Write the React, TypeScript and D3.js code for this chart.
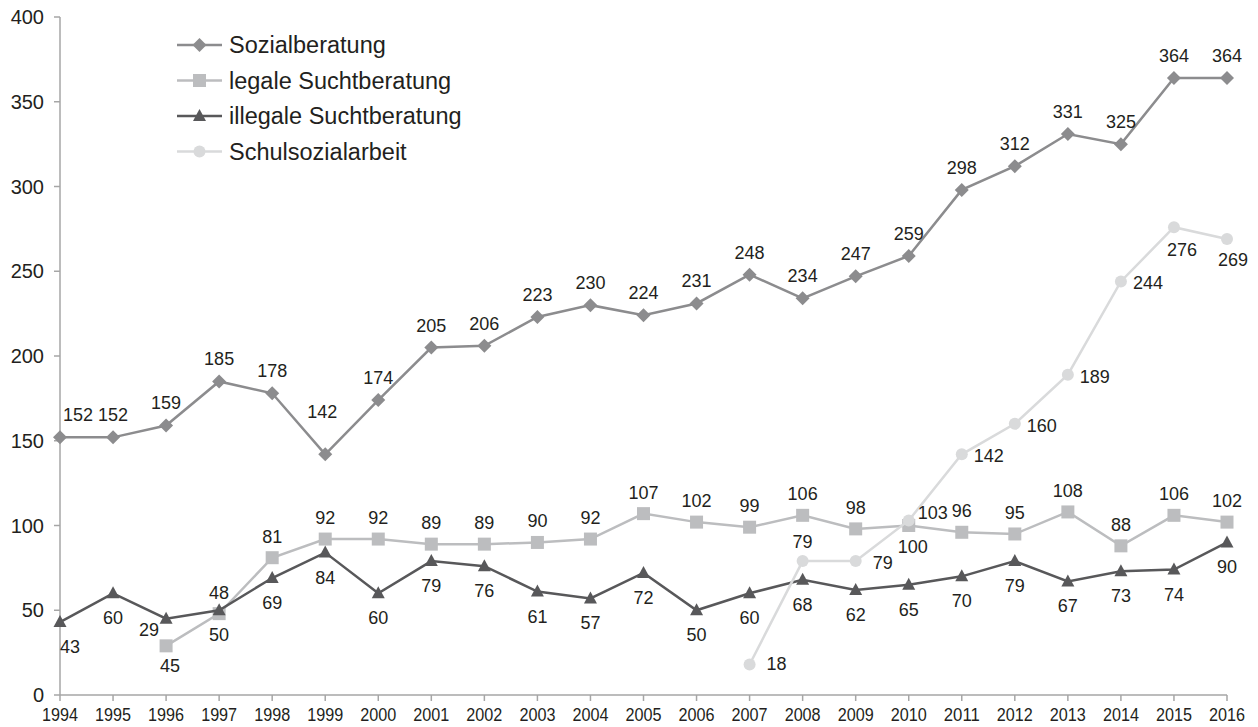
import React from "react";
import * as d3 from "d3";

const years = [1994,1995,1996,1997,1998,1999,2000,2001,2002,2003,2004,2005,2006,2007,2008,2009,2010,2011,2012,2013,2014,2015,2016];
const sozialberatung = [152,152,159,185,178,142,174,205,206,223,230,224,231,248,234,247,259,298,312,331,325,364,364];
const legaleYears = [1996,1997,1998,1999,2000,2001,2002,2003,2004,2005,2006,2007,2008,2009,2010,2011,2012,2013,2014,2015,2016];
const legale = [29,48,81,92,92,89,89,90,92,107,102,99,106,98,100,96,95,108,88,106,102];
const illegale = [43,60,45,50,69,84,60,79,76,61,57,72,50,60,68,62,65,70,79,67,73,74,90];
const schulYears = [2007,2008,2009,2010,2011,2012,2013,2014,2015,2016];
const schul = [18,79,79,103,142,160,189,244,276,269];
const yTicks = [0,50,100,150,200,250,300,350,400];
// label texts as printed in the source (two are swapped in the original)
const legaleLabelText: Record<number, string> = { 1996: "45" };
const illegaleLabelText: Record<number, string> = { 1996: "29" };

const W = 1258, H = 727;
const textColor = "#231f20";
const FONT = "'Liberation Sans', Arial, Helvetica, sans-serif";

type Off = { dx: number; dy: number };

const seriesDefs = [
  {
    name: "Sozialberatung", xs: years, ys: sozialberatung, color: "#8c8c8e", marker: "diamond",
    labels: {} as Record<number, string>,
    def: { dx: 0, dy: -22 } as Off,
    over: { 1994: { dx: 18, dy: -22 }, 1999: { dx: -3, dy: -42 } } as Record<number, Off>,
  },
  {
    name: "legale Suchtberatung", xs: legaleYears, ys: legale, color: "#bcbdbf", marker: "square",
    labels: legaleLabelText,
    def: { dx: 0, dy: -21 } as Off,
    over: { 1996: { dx: 4, dy: 20 }, 2010: { dx: 4, dy: 21 } } as Record<number, Off>,
  },
  {
    name: "illegale Suchtberatung", xs: years, ys: illegale, color: "#58585a", marker: "triangle",
    labels: illegaleLabelText,
    def: { dx: 0, dy: 25 } as Off,
    over: { 1994: { dx: 10, dy: 25 }, 1996: { dx: -17, dy: 11 } } as Record<number, Off>,
  },
  {
    name: "Schulsozialarbeit", xs: schulYears, ys: schul, color: "#d9dadb", marker: "circle",
    labels: {} as Record<number, string>,
    def: { dx: 27, dy: 2 } as Off,
    over: {
      2007: { dx: 27, dy: 0 }, 2008: { dx: 0, dy: -19 }, 2010: { dx: 24, dy: -7 },
      2015: { dx: 8, dy: 23 }, 2016: { dx: 6, dy: 21 },
    } as Record<number, Off>,
  },
];

function Marker({ type, x, y, color }: { type: string; x: number; y: number; color: string }) {
  if (type === "diamond") {
    const r = 7;
    return <path d={`M${x},${y - r}L${x + r},${y}L${x},${y + r}L${x - r},${y}Z`} fill={color} />;
  }
  if (type === "square") {
    const s = 6.5;
    return <rect x={x - s} y={y - s} width={2 * s} height={2 * s} fill={color} />;
  }
  if (type === "triangle") {
    return <path d={`M${x},${y - 7}L${x + 6.5},${y + 5}L${x - 6.5},${y + 5}Z`} fill={color} />;
  }
  return <circle cx={x} cy={y} r={6} fill={color} />;
}

export default function App() {
  const x = d3.scaleLinear().domain([1994, 2016]).range([60, 1227]);
  const y = d3.scaleLinear().domain([0, 400]).range([695, 17]);
  const line = d3.line<[number, number]>().x((d) => x(d[0])).y((d) => y(d[1]));

  return (
    <svg width={W} height={H} style={{ position: "absolute", left: 0, top: 0, background: "#fff" }} fontFamily={FONT}>
      {/* axes */}
      <line x1={x(1994)} x2={x(1994)} y1={y(400)} y2={y(0)} stroke="#a6a6a6" strokeWidth={1.5} />
      <line x1={x(1994)} x2={x(2016)} y1={y(0)} y2={y(0)} stroke="#a6a6a6" strokeWidth={1.5} />
      {yTicks.map((t) => (
        <g key={t}>
          <line x1={x(1994) - 6} x2={x(1994)} y1={y(t)} y2={y(t)} stroke="#a6a6a6" strokeWidth={1.5} />
          <text x={44} y={y(t) + 7} textAnchor="end" fontSize={20} fill={textColor}>{t}</text>
        </g>
      ))}
      {years.map((yr) => (
        <g key={yr}>
          <line x1={x(yr)} x2={x(yr)} y1={y(0)} y2={y(0) + 6} stroke="#a6a6a6" strokeWidth={1.5} />
          <text x={x(yr)} y={721} textAnchor="middle" fontSize={18} textLength={36} lengthAdjust="spacingAndGlyphs" fill={textColor}>{yr}</text>
        </g>
      ))}

      {/* series */}
      {seriesDefs.map((s) => {
        const pts = s.xs.map((yr, i) => [yr, s.ys[i]] as [number, number]);
        return (
          <g key={s.name}>
            <path d={line(pts) || ""} fill="none" stroke={s.color} strokeWidth={2.5} />
            {pts.map((p) => (
              <Marker key={p[0]} type={s.marker} x={x(p[0])} y={y(p[1])} color={s.color} />
            ))}
          </g>
        );
      })}
      {seriesDefs.map((s) => (
        <g key={s.name + "-labels"}>
          {s.xs.map((yr, i) => {
            const o = s.over[yr] || s.def;
            const txt = s.labels[yr] ?? String(s.ys[i]);
            return (
              <text key={yr} x={x(yr) + o.dx} y={y(s.ys[i]) + o.dy + 6} textAnchor="middle" fontSize={18} fill={textColor}>
                {txt}
              </text>
            );
          })}
        </g>
      ))}

      {/* legend */}
      {seriesDefs.map((s, i) => {
        const cy = 45 + i * 35.5;
        return (
          <g key={s.name + "-legend"}>
            <line x1={177} x2={222} y1={cy} y2={cy} stroke={s.color} strokeWidth={2.5} />
            <Marker type={s.marker} x={199.5} y={cy} color={s.color} />
            <text x={229} y={cy + 8} fontSize={23.5} fill={textColor}>{s.name}</text>
          </g>
        );
      })}
    </svg>
  );
}
